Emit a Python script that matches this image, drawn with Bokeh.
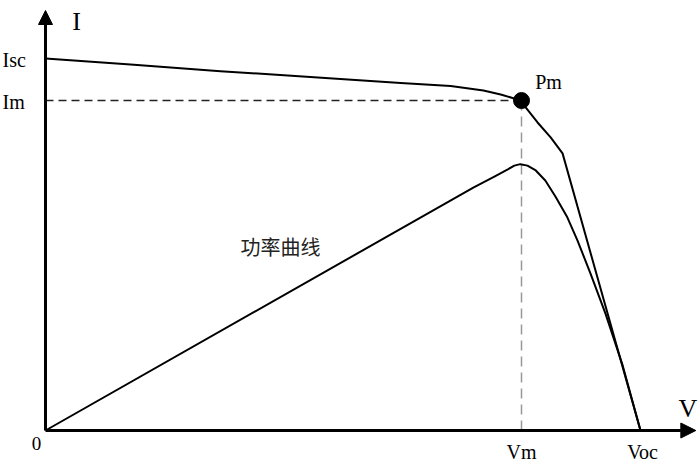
from bokeh.plotting import figure
from bokeh.models import Range1d, Arrow, NormalHead
from bokeh.core.properties import value
from bokeh.embed import file_html
from bokeh.resources import INLINE

# I-V curve (normalised units: Voc = 1, Isc = 1)
iv_v = [0.0, 0.143, 0.294, 0.445, 0.597, 0.681, 0.736, 0.765, 0.785, 0.798, 0.827, 0.849, 0.869, 1.0]
iv_i = [1.0, 0.984, 0.966, 0.950, 0.934, 0.926, 0.914, 0.903, 0.894, 0.887, 0.828, 0.788, 0.745, 0.0]

# Power curve
p_v = [0.0, 0.719, 0.756, 0.777, 0.788, 0.798, 0.810, 0.824, 0.840, 0.857, 0.877, 0.894, 0.916, 0.941, 0.970, 1.0]
p_p = [0.0, 0.653, 0.684, 0.702, 0.712, 0.716, 0.712, 0.699, 0.672, 0.629, 0.573, 0.511, 0.422, 0.315, 0.175, 0.0]

Isc = 1.0
Im = 0.887
Vm = 0.80
Voc = 1.0
x_tip = 1.093
y_tip = 1.129

W, H = 698, 464
x_start, x_end = -45 / 595, 653 / 595
p = figure(width=W, height=H, output_backend="svg", toolbar_location=None,
           x_range=Range1d(x_start, x_end), y_range=Range1d(-34 / 372, 430 / 372),
           x_axis_type=None, y_axis_type=None, min_border=0)
p.grid.visible = False
p.outline_line_color = None
p.background_fill_color = "white"
p.border_fill_color = "white"

serif = value("Liberation Serif")

# dashed guides
p.line([0, Vm], [Im, Im], line_color="#222222", line_width=1.5, line_dash="8 5")
p.line([Vm, Vm], [0, Im], line_color="#999999", line_width=1.5, line_dash="10 6")

# curves
p.line(iv_v, iv_i, line_color="black", line_width=2, line_join="round")
p.line(p_v, p_p, line_color="black", line_width=2, line_join="round")

# Pm dot
p.scatter([Vm], [Im], size=16, fill_color="black", line_color="black")

# axes with arrows
p.add_layout(Arrow(end=NormalHead(size=15, fill_color="black", line_color="black"),
                   x_start=0, y_start=0, x_end=x_tip, y_end=0,
                   line_width=3, line_color="black"))
p.add_layout(Arrow(end=NormalHead(size=14, fill_color="black", line_color="black"),
                   x_start=0, y_start=0, x_end=0, y_end=y_tip,
                   line_width=3, line_color="black"))

p.text([x_start, x_start], [Isc, Im], text=["Isc", "Im"], text_font=serif, text_font_size="20px",
       text_align="left", text_baseline="middle", x_offset=2, y_offset=1, text_color="black")
p.text([0], [0], text=["0"], text_font=serif, text_font_size="19px",
       text_align="center", text_baseline="middle", x_offset=-9, y_offset=13)
p.text([Vm, Voc], [0, 0], text=["Vm", "Voc"], text_font=serif, text_font_size="20px",
       text_align="center", text_baseline="middle", x_offset=[0, 2], y_offset=21)
p.text([Vm], [Im], text=["Pm"], text_font=serif, text_font_size="20px",
       text_align="center", text_baseline="middle", x_offset=27, y_offset=-19)
p.text([0], [y_tip], text=["I"], text_font=serif, text_font_size="26px",
       text_align="center", text_baseline="middle", x_offset=31, y_offset=11)
p.text([x_tip], [0], text=["V"], text_font=serif, text_font_size="26px",
       text_align="center", text_baseline="middle", x_offset=-8, y_offset=-22)
p.text([0.395], [0.495], text=["功率曲线"], text_font=value("Noto Sans CJK SC"),
       text_font_size="20px", text_align="center", text_baseline="middle",
       text_color="#222222")

open("out.html", "w").write(file_html(p, INLINE))
